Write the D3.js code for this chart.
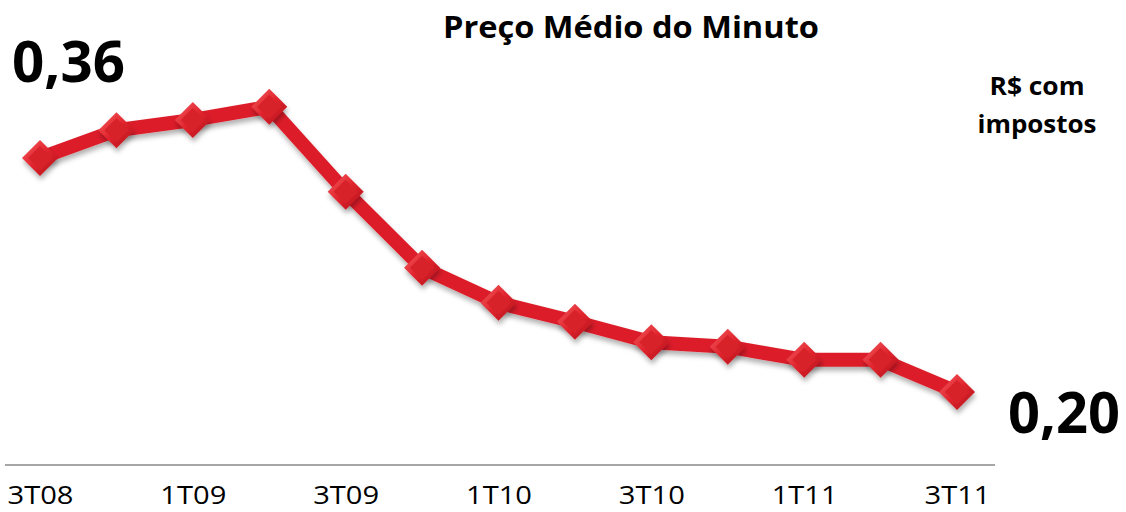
<!DOCTYPE html>
<meta charset="utf-8">
<style>
body { margin: 0; background: #fff; }
text { font-family: "Open Sans", Lato, sans-serif; }
.axis--x path, .axis--x line { display: none; }
</style>
<svg width="1126" height="512"></svg>
<script src="https://d3js.org/d3.v7.min.js"></script>
<script>

var quarters = ["3T08","4T08","1T09","2T09","3T09","4T09","1T10","2T10","3T10","4T10","1T11","2T11","3T11"];
var precos = [0.360, 0.379, 0.386, 0.395, 0.337, 0.285, 0.261, 0.248, 0.234, 0.231, 0.222, 0.222, 0.200];
var tickLabels = ["3T08","1T09","3T09","1T10","3T10","1T11","3T11"];

var svg = d3.select("svg");

var x = d3.scalePoint().domain(quarters).range([40, 957]),
    y = d3.scaleLinear().domain([0.20, 0.36]).range([392, 158]);

var defs = svg.append("defs");
var grad = defs.append("linearGradient").attr("id", "bevel")
    .attr("x1", "0%").attr("y1", "0%").attr("x2", "100%").attr("y2", "100%");
grad.append("stop").attr("offset", "0%").attr("stop-color", "#f45a60");
grad.append("stop").attr("offset", "50%").attr("stop-color", "#e0242d");
grad.append("stop").attr("offset", "100%").attr("stop-color", "#b0121a");
var sh = defs.append("filter").attr("id", "shadow").attr("x", "-50%").attr("y", "-50%").attr("width", "200%").attr("height", "200%");
sh.append("feDropShadow").attr("dx", 1).attr("dy", 4).attr("stdDeviation", 2.5)
    .attr("flood-color", "#000").attr("flood-opacity", 0.3);

// axis line
svg.append("line")
    .attr("x1", 5).attr("x2", 995)
    .attr("y1", 465).attr("y2", 465)
    .attr("stroke", "#a6a6a6").attr("stroke-width", 2);

var xAxis = svg.append("g")
    .attr("class", "axis axis--x")
    .attr("transform", "translate(0,483)")
    .call(d3.axisBottom(x).tickValues(tickLabels).tickSize(0));
xAxis.selectAll("text")
    .attr("font-size", 26)
    .attr("fill", "#000")
    .attr("font-family", "'Open Sans', sans-serif")
    .attr("textLength", 66)
    .attr("lengthAdjust", "spacingAndGlyphs");
xAxis.select(".domain").remove();

var line = d3.line()
    .x(function(d, i) { return x(quarters[i]); })
    .y(function(d) { return y(d); });

svg.append("path")
    .datum(precos)
    .attr("d", line)
    .attr("fill", "none")
    .attr("stroke", "#dd1f2a")
    .attr("stroke-width", 14)
    .attr("stroke-linejoin", "round")
    .attr("filter", "url(#shadow)");

var r = 18, ri = 12;
var mk = svg.selectAll(".mk")
    .data(precos)
    .enter().append("g")
    .attr("class", "mk")
    .attr("transform", function(d, i) { return "translate(" + x(quarters[i]) + "," + y(d) + ")"; })
    .attr("filter", "url(#shadow)");

mk.append("path")
    .attr("d", "M0," + (-r) + "L" + r + ",0L0," + r + "L" + (-r) + ",0Z")
    .attr("fill", "url(#bevel)");
mk.append("path")
    .attr("d", "M0," + (-ri) + "L" + ri + ",0L0," + ri + "L" + (-ri) + ",0Z")
    .attr("fill", "#d8222b");

svg.append("text")
    .attr("x", 631).attr("y", 38)
    .attr("text-anchor", "middle")
    .attr("font-size", 31).attr("font-weight", "bold")
    .attr("textLength", 376).attr("lengthAdjust", "spacingAndGlyphs")
    .text("Preço Médio do Minuto");

svg.append("text")
    .attr("x", 12).attr("y", 82)
    .attr("font-size", 58).attr("font-weight", "bold")
    .attr("textLength", 113).attr("lengthAdjust", "spacingAndGlyphs")
    .text("0,36");

svg.append("text")
    .attr("x", 1008).attr("y", 433)
    .attr("font-size", 58).attr("font-weight", "bold")
    .attr("textLength", 112).attr("lengthAdjust", "spacingAndGlyphs")
    .text("0,20");

svg.append("text")
    .attr("x", 1037).attr("y", 95)
    .attr("text-anchor", "middle")
    .attr("font-size", 25).attr("font-weight", "bold")
    .attr("textLength", 95).attr("lengthAdjust", "spacingAndGlyphs")
    .text("R$ com");
svg.append("text")
    .attr("x", 1037).attr("y", 133)
    .attr("text-anchor", "middle")
    .attr("font-size", 25).attr("font-weight", "bold")
    .attr("textLength", 119).attr("lengthAdjust", "spacingAndGlyphs")
    .text("impostos");

</script>
